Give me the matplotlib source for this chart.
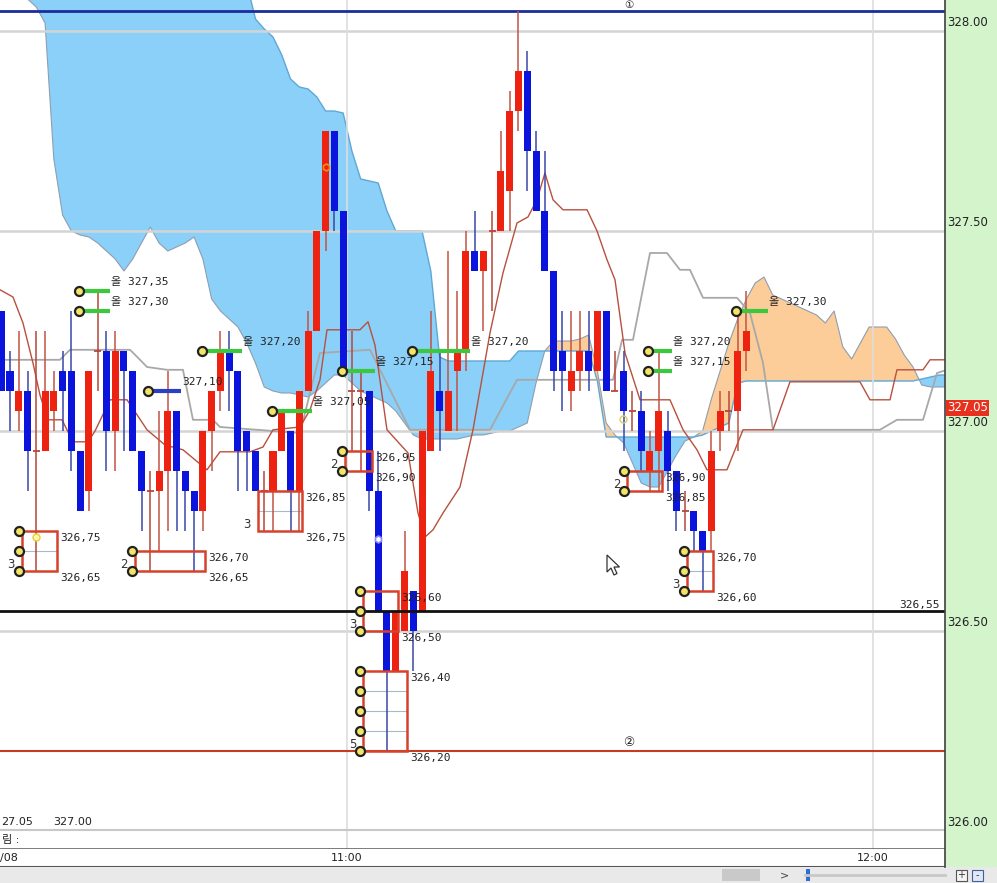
import matplotlib
matplotlib.use("Agg")
import matplotlib.pyplot as plt
from matplotlib.patches import Rectangle, Polygon
from matplotlib.transforms import offset_copy
import numpy as np

# ---------------- data ----------------
candle_idx = list(range(-1, 85))
opens = [327.30, 327.15, 327.05, 327.10, 326.95, 326.95, 327.05, 327.15, 327.15, 326.95,
         326.85, 327.20, 327.20, 327.00, 327.20, 327.15, 326.95, 326.85, 326.85, 326.90,
         327.05, 326.90, 326.85, 326.80, 327.00, 327.10, 327.20, 327.15, 327.00, 326.95,
         326.85, 326.85, 326.95, 327.00, 326.85, 327.10, 327.25, 327.50, 327.75, 327.55,
         327.10, 327.10, 327.10, 326.85, 326.55, 326.40, 326.50, 326.60, 326.55, 326.95,
         327.10, 327.00, 327.15, 327.20, 327.45, 327.40, 327.50, 327.50, 327.60, 327.80,
         327.90, 327.70, 327.55, 327.40, 327.20, 327.10, 327.15, 327.20, 327.15, 327.30,
         327.10, 327.15, 327.05, 327.05, 326.90, 326.95, 327.00, 326.90, 326.80, 326.80,
         326.75, 326.75, 327.00, 327.05, 327.05, 327.20]
highs = [327.30, 327.20, 327.25, 327.15, 327.25, 327.25, 327.15, 327.20, 327.30, 326.95,
         327.15, 327.35, 327.25, 327.25, 327.20, 327.15, 326.95, 326.90, 327.05, 327.15,
         327.05, 326.90, 326.85, 327.00, 327.10, 327.25, 327.25, 327.15, 327.00, 326.95,
         326.90, 326.95, 327.05, 327.00, 327.10, 327.30, 327.50, 327.75, 327.75, 327.55,
         327.25, 327.15, 327.10, 326.95, 326.55, 326.55, 326.75, 326.60, 327.00, 327.30,
         327.20, 327.45, 327.35, 327.50, 327.55, 327.45, 327.55, 327.75, 327.85, 328.05,
         327.95, 327.75, 327.70, 327.40, 327.30, 327.30, 327.30, 327.30, 327.30, 327.30,
         327.20, 327.20, 327.10, 327.10, 327.00, 327.20, 327.05, 326.90, 326.85, 326.80,
         326.75, 327.00, 327.10, 327.10, 327.30, 327.35]
lows = [327.10, 327.00, 327.00, 326.85, 326.65, 326.95, 327.00, 327.00, 326.90, 326.80,
        326.80, 327.10, 326.90, 326.90, 326.95, 326.95, 326.75, 326.65, 326.70, 326.75,
        326.75, 326.75, 326.65, 326.75, 326.90, 327.05, 327.05, 326.85, 326.85, 326.85,
        326.75, 326.75, 326.95, 326.75, 326.75, 327.10, 327.25, 327.45, 327.50, 327.15,
        326.95, 326.90, 326.80, 326.55, 326.20, 326.40, 326.50, 326.40, 326.55, 326.95,
        326.95, 327.00, 327.00, 327.15, 327.40, 327.25, 327.30, 327.50, 327.50, 327.75,
        327.60, 327.55, 327.40, 327.10, 327.05, 327.05, 327.10, 327.10, 327.15, 327.10,
        327.10, 326.95, 327.00, 326.90, 326.85, 326.85, 326.85, 326.75, 326.75, 326.70,
        326.60, 326.70, 326.95, 327.00, 326.95, 327.15]
closes = [327.10, 327.10, 327.10, 326.95, 326.95, 327.10, 327.10, 327.10, 326.95, 326.80,
          327.15, 327.20, 327.00, 327.20, 327.15, 326.95, 326.85, 326.85, 326.90, 327.05,
          326.90, 326.85, 326.80, 327.00, 327.10, 327.20, 327.15, 326.95, 326.95, 326.85,
          326.85, 326.95, 327.05, 326.85, 327.10, 327.25, 327.50, 327.75, 327.55, 327.15,
          327.10, 327.10, 326.85, 326.55, 326.40, 326.55, 326.65, 326.50, 327.00, 327.15,
          327.05, 327.10, 327.20, 327.45, 327.40, 327.45, 327.50, 327.65, 327.80, 327.90,
          327.70, 327.55, 327.40, 327.15, 327.15, 327.15, 327.20, 327.15, 327.30, 327.10,
          327.10, 327.05, 327.05, 326.95, 326.95, 327.05, 326.90, 326.80, 326.80, 326.75,
          326.70, 326.95, 327.05, 327.05, 327.20, 327.25]

# ichimoku cloud spans (index -2 .. 107)
span_idx = list(range(-2, 108))
lead1 = [328.40, 328.40, 328.35, 328.20, 328.08, 328.06, 328.02, 327.68, 327.54, 327.50,
         327.49, 327.485, 327.47, 327.45, 327.43, 327.40, 327.43, 327.47, 327.51, 327.47,
         327.45, 327.46, 327.47, 327.485, 327.43, 327.33, 327.30, 327.28, 327.26, 327.22,
         327.17, 327.11, 327.10, 327.095, 327.095, 327.09, 327.085, 327.10, 327.12, 327.14,
         327.14, 327.12, 327.10, 327.09, 327.08, 327.07, 327.05, 327.02, 326.99, 326.98,
         326.98, 326.98, 326.98, 326.98, 326.985, 326.99, 326.99, 326.995, 327.00, 327.00,
         327.01, 327.02, 327.12, 327.20, 327.225, 327.225, 327.225, 327.23, 327.24, 327.15,
         327.02, 326.99, 326.97, 326.92, 326.87, 326.86, 326.86, 326.90, 326.94, 326.975,
         326.985, 327.00, 327.08, 327.15, 327.22, 327.28, 327.33, 327.37, 327.385, 327.34,
         327.33, 327.32, 327.31, 327.30, 327.29, 327.27, 327.30, 327.21, 327.18, 327.22,
         327.26, 327.26, 327.26, 327.23, 327.19, 327.16, 327.115, 327.11, 327.11, 327.11]
lead2 = ([328.40] * 29 +
         [328.12, 328.03, 328.005, 327.985, 327.94, 327.88, 327.86, 327.855, 327.835, 327.80,
          327.80, 327.795, 327.70, 327.63, 327.625, 327.62, 327.55, 327.50, 327.50, 327.50,
          327.50, 327.40, 327.185] +
         [327.175] * 8 + [327.20] * 9 + [327.125] + [326.985] * 11 +
         [326.99, 327.00, 327.01, 327.02, 327.12] + [327.125] * 20 +
         [327.13, 327.135, 327.14, 327.14])

# conversion line (brown)
conv_x = [-1.14, 0.34, 1.48, 2.62, 3.42, 4.33, 5.93, 7.19, 8.90, 9.70, 11.41, 13.35, 15.63,
          17.68, 19.73, 22.47, 23.95, 27.38, 28.86, 30.00, 33.08, 34.22, 35.36, 36.16, 39.92,
          40.84, 41.63, 43.00, 45.40, 46.54, 47.34, 48.25, 49.39, 51.33, 52.81, 54.75, 56.23,
          57.83, 59.08, 60.11, 61.02, 61.94, 63.08, 65.82, 66.96, 68.10, 69.01, 70.15, 71.86,
          75.28, 76.77, 78.36, 79.50, 81.78, 83.61, 87.03, 88.97, 96.95, 98.09, 100.38, 101.17,
          104.14, 104.94, 106.88]
conv_y = [327.353, 327.335, 327.27, 327.17, 327.09, 327.028, 327.028, 326.973, 326.973, 327.0,
          327.078, 327.078, 327.003, 326.965, 326.953, 326.903, 326.948, 326.948, 326.96,
          327.003, 327.01, 327.053, 327.128, 327.253, 327.253, 327.273, 327.215, 327.003,
          326.945, 326.795, 326.735, 326.753, 326.795, 326.86, 327.003, 327.245, 327.395,
          327.52, 327.535, 327.578, 327.645, 327.578, 327.553, 327.553, 327.50, 327.428,
          327.378, 327.195, 327.078, 327.078, 327.003, 326.953, 326.903, 326.903, 327.003,
          327.003, 327.123, 327.123, 327.078, 327.078, 327.153, 327.153, 327.178, 327.178]

# lagging line (gray)
lag_x = [-1.14, 5.70, 6.84, 13.69, 14.83, 15.63, 17.91, 19.73, 20.87, 23.15, 23.95, 33.08,
         35.36, 41.06, 45.63, 54.75, 57.83, 68.78, 69.81, 71.06, 73.00, 74.94, 76.42, 77.56,
         79.05, 82.93, 84.41, 85.89, 87.03, 99.23, 101.17, 104.14, 105.74, 106.88]
lag_y = [327.178, 327.178, 327.203, 327.203, 327.178, 327.16, 327.153, 327.153, 327.028,
         327.028, 327.01, 326.995, 327.195, 327.203, 327.003, 327.003, 327.128, 327.128,
         327.228, 327.228, 327.445, 327.445, 327.403, 327.403, 327.333, 327.333, 327.295,
         327.17, 327.003, 327.003, 327.028, 327.028, 327.145, 327.153]

# price-zone boxes: (start idx, end idx, low, high, count label, show dots)
box_x0 = [1.37, 14.26, 28.29, 38.2, 40.3, 40.3, 70.4, 77.2]
box_x1 = [5.36, 22.24, 33.3, 41.3, 44.3, 45.3, 74.4, 80.2]
box_lo = [326.65, 326.65, 326.75, 326.90, 326.50, 326.20, 326.85, 326.60]
box_hi = [326.75, 326.70, 326.85, 326.95, 326.60, 326.40, 326.90, 326.70]
box_cnt = ["3", "2", "3", "2", "3", "5", "2", "3"]
box_dots = [True, True, False, True, True, True, True, True]

# level markers (dot idx, end idx, price, kind)
mk_x0 = [7.87, 7.87, 21.9, 15.74, 29.9, 37.9, 45.9, 72.8, 72.8, 82.8]
mk_x1 = [11.4, 11.4, 26.5, 19.5, 34.4, 41.6, 52.5, 75.5, 75.5, 86.5]
mk_p = [327.35, 327.30, 327.20, 327.10, 327.05, 327.15, 327.20, 327.20, 327.15, 327.30]
mk_green = [True, True, True, False, True, True, True, True, True, True]

grid_prices = [326.00, 326.50, 327.00, 327.50, 328.00]
time_pos = [38.45, 98.45]
time_labels = ["11:00", "12:00"]
level_blue, level_black, level_red = 328.05, 326.55, 326.20
last_price = 327.05
info_values = ["27.05", "327.00"]

# ---------------- figure ----------------
W, H = 997, 883
fig = plt.figure(figsize=(W / 100, H / 100), dpi=100)
fig.patch.set_facecolor("white")


def px_axes(x0, y0, x1, y1):
    return fig.add_axes([x0 / W, 1 - y1 / H, (x1 - x0) / W, (y1 - y0) / H])


def off(axx, dx, dy):
    return offset_copy(axx.transData, fig=fig, x=dx, y=dy, units="dots")


XL = (-1.14, 106.65)
YL = (326.0025, 328.0775)
ax = px_axes(0, 0, 945, 830)
ax.set_xlim(*XL)
ax.set_ylim(*YL)
ax.axis("off")

mono = ["DejaVu Sans Mono", "Noto Sans CJK KR"]
sans = ["DejaVu Sans", "Noto Sans CJK KR"]

# clouds
sx = np.array(span_idx, dtype=float)
a = np.array(lead1)
b = np.array(lead2)
ax.fill_between(sx, a, b, where=a >= b, interpolate=True, color="#fccc99", lw=0, zorder=1)
ax.fill_between(sx, a, b, where=a < b, interpolate=True, color="#8ad0f8", lw=0, zorder=1)
ax.plot(sx, a, color="#8d9fb0", lw=0.8, zorder=1.3)
ax.plot(sx, b, color="#5fa8d4", lw=1.0, zorder=1.3)

# grid
for p in grid_prices:
    ax.axhline(p, color="#d4d4d4", lw=1.8, zorder=1.5)
for t in time_pos:
    ax.axvline(t, color="#dddddd", lw=1.2, zorder=1.5)

# indicator lines
ax.plot(lag_x, lag_y, color="#a8a8a8", lw=1.3, zorder=2)
ax.plot(conv_x, conv_y, color="#b8503e", lw=1.0, zorder=2.1)

# special levels
ax.axhline(level_blue, color="#1c2c9c", lw=2, zorder=2.5)
ax.axhline(level_red, color="#c43c24", lw=1.5, zorder=2.5)
ax.axhline(level_black, color="#111111", lw=2, zorder=4.5)
ax.text(70.6, level_blue, "①", ha="center", va="center", fontsize=7.5, family=sans,
        color="#222222", zorder=6, transform=off(ax, 0, 5.5))
ax.text(70.6, level_red, "②", ha="center", va="center", fontsize=9, family=sans,
        color="#222222", zorder=6, transform=off(ax, 0, 9))
ax.text(106.08, level_black, f"{level_black:.2f}".replace(".", ","), ha="right",
        va="bottom", fontsize=8, family=mono, color="#222222", zorder=6,
        transform=off(ax, 0, 1))

# candles
for i, o, h, l, c in zip(candle_idx, opens, highs, lows, closes):
    if c > o:
        body, wick = "#ee2211", "#c25344"
    elif c < o:
        body, wick = "#0a14dc", "#3a46a8"
    else:
        body, wick = "#b5473a", "#b5473a"
    ax.vlines(i, l, h, color=wick, lw=1.1, zorder=3)
    if c != o:
        ax.add_patch(Rectangle((i - 0.4, min(o, c)), 0.8, abs(c - o), fc=body,
                               ec="none", zorder=3.2))
    else:
        ax.hlines(o, i - 0.4, i + 0.4, color=body, lw=1.3, zorder=3.2)

# boxes
for x0, x1, lo, hi, cnt, dots in zip(box_x0, box_x1, box_lo, box_hi, box_cnt, box_dots):
    nlev = int(round((hi - lo) / 0.05))
    for k in range(1, nlev):
        ax.hlines(lo + 0.05 * k, x0, x1, color="#a9b9ca", lw=0.8, zorder=2.9)
    ax.add_patch(Rectangle((x0, lo), x1 - x0, hi - lo, fill=False, ec="#d6412b",
                           lw=1.8, zorder=4))
    if dots:
        for k in range(nlev + 1):
            ax.plot(x0 - 0.35, lo + 0.05 * k, "o", ms=6.5, mfc="#f3e468", mec="#222222",
                    mew=1.6, zorder=5)
    ax.text(x0 - 0.8, lo, cnt, ha="right", va="center", fontsize=8.5, family=sans,
            color="#333333", transform=off(ax, 0, 6), zorder=6)
    ax.text(x1, hi, f"{hi:.2f}".replace(".", ","), ha="left", va="top", fontsize=8,
            family=mono, color="#222222", transform=off(ax, 3, -2), zorder=6)
    ax.text(x1, lo, f"{lo:.2f}".replace(".", ","), ha="left", va="top", fontsize=8,
            family=mono, color="#222222", transform=off(ax, 3, -2), zorder=6)

# level markers
for x0, x1, p, g in zip(mk_x0, mk_x1, mk_p, mk_green):
    col = "#3cc83c" if g else "#2b3fc2"
    ax.hlines(p, x0, x1, color=col, lw=3, zorder=4.8)
    ax.plot(x0, p, "o", ms=6.5, mfc="#f3e468", mec="#222222", mew=1.6, zorder=5)
    txt = ("올 " if g else "") + f"{p:.2f}".replace(".", ",")
    ax.text(x1, p, txt, ha="left", va="center", fontsize=8, family=mono,
            color="#222222", transform=off(ax, 1, 9), zorder=6)

# small signal markers
ax.plot(36, 327.66, "h", ms=5, mfc="none", mec="#f08c1e", mew=1.2, zorder=5)
ax.plot(42, 326.73, "h", ms=5, mfc="white", mec="#8a8aff", mew=1.2, zorder=5)
ax.plot(3, 326.735, "o", ms=5, mfc="#fff6a8", mec="#e6cf3a", mew=1.0, zorder=5)
ax.plot(69.9, 327.03, "o", ms=5, mfc="none", mec="#d6d060", mew=1.0, zorder=5)

# bottom-left info texts inside chart
fig.text(1 / W, 1 - 822 / H, info_values[0], ha="left", va="center", fontsize=8,
         family=sans, color="#222222")
fig.text(53 / W, 1 - 822 / H, info_values[1], ha="left", va="center", fontsize=8,
         family=sans, color="#222222")

# mouse cursor (screen decoration)
cur = np.array([[607, 555], [607, 572], [611, 568], [614, 575], [617, 573.5],
                [614, 567], [619.5, 567]])
fig.add_artist(Polygon(np.c_[cur[:, 0] / W, 1 - cur[:, 1] / H], closed=True,
                       transform=fig.transFigure, fc="white", ec="#333333", lw=0.9,
                       zorder=10))

# strip 1
s1 = px_axes(0, 830, 945, 849)
s1.set_xlim(*XL)
s1.set_ylim(0, 1)
s1.set_xticks([])
s1.set_yticks([])
for sp in ["left", "right"]:
    s1.spines[sp].set_visible(False)
s1.spines["top"].set_color("#c8c8c8")
s1.spines["top"].set_linewidth(1.5)
s1.spines["bottom"].set_color("#555555")
s1.spines["bottom"].set_linewidth(1.8)
for t in time_pos:
    s1.axvline(t, color="#dddddd", lw=1.2)
s1.text(0.002, 0.5, "림 :", transform=s1.transAxes, ha="left", va="center",
        fontsize=8, family=sans, color="#222222")

# strip 2 (time axis)
s2 = px_axes(0, 849, 945, 867)
s2.set_xlim(*XL)
s2.set_ylim(0, 1)
s2.set_xticks([])
s2.set_yticks([])
for sp in ["left", "right", "top"]:
    s2.spines[sp].set_visible(False)
s2.spines["bottom"].set_color("#555555")
s2.spines["bottom"].set_linewidth(1.5)
for t, lab in zip(time_pos, time_labels):
    s2.text(t, 0.5, lab, ha="center", va="center", fontsize=8, family=sans,
            color="#222222")
s2.text(0.0, 0.5, "/08", transform=s2.transAxes, ha="left", va="center",
        fontsize=8, family=sans, color="#222222")

# strip 3 (scroll bar)
s3 = px_axes(0, 867, 997, 883)
s3.set_xlim(0, 997)
s3.set_ylim(16, 0)
s3.axis("off")
s3.add_patch(Rectangle((0, 0), 997, 16, fc="#e9e9e9", ec="none"))
s3.add_patch(Rectangle((722, 2), 38, 12, fc="#c9c9c9", ec="none"))
s3.text(784, 8, ">", ha="center", va="center", fontsize=8, color="#444444")
s3.plot([805, 945], [8, 8], color="#c8c8c8", lw=2)
s3.add_patch(Rectangle((806, 2), 4, 12, fc="#2a6fd6", ec="none"))
s3.add_patch(Rectangle((956, 3), 11, 11, fc="#f4f4f4", ec="#555555", lw=0.8))
s3.add_patch(Rectangle((972, 3), 11, 11, fc="#dfe8f4", ec="#4060a0", lw=0.8))
s3.text(961.5, 8.5, "+", ha="center", va="center", fontsize=7, color="#333333")
s3.text(977.5, 8.5, "-", ha="center", va="center", fontsize=7, color="#333333")

# right price panel
rax = px_axes(945, 0, 997, 867)
rax.set_xlim(0, 1)
rax.set_ylim(YL[1] - 867 / 400, YL[1])
rax.set_facecolor("#d4f5cc")
rax.set_xticks([])
rax.set_yticks([])
for sp in ["right", "top", "bottom"]:
    rax.spines[sp].set_visible(False)
rax.spines["left"].set_color("#404040")
rax.spines["left"].set_linewidth(1.2)
for p in grid_prices:
    rax.text(0.04, p, f"{p:.2f}", ha="left", va="bottom", fontsize=8.5, family=sans,
             color="#222222", transform=off(rax, 0, 2))
rax.text(0.04, last_price, f"{last_price:.2f}", ha="left", va="center", fontsize=8.5,
         family=sans, color="white", transform=off(rax, 0, 3),
         bbox=dict(boxstyle="square,pad=0.12", fc="#e8301e", ec="none"))

fig.savefig("out.png", dpi=100, facecolor="white")
